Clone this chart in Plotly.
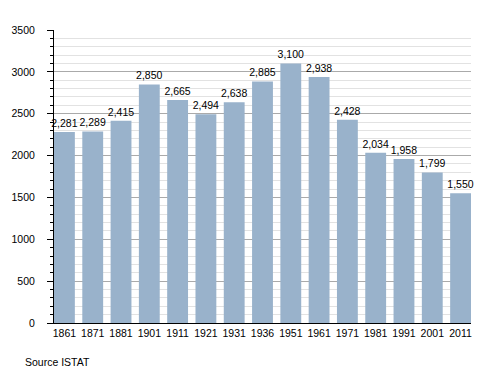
import plotly.graph_objects as go

years = ["1861", "1871", "1881", "1901", "1911", "1921", "1931", "1936",
         "1951", "1961", "1971", "1981", "1991", "2001", "2011"]
population = [2281, 2289, 2415, 2850, 2665, 2494, 2638, 2885,
              3100, 2938, 2428, 2034, 1958, 1799, 1550]
labels = [f"{v:,}" for v in population]

FONT = "Liberation Sans, Arial, sans-serif"
w = 0.737

fig = go.Figure(go.Bar(
    x=list(range(len(years))), y=population, text=labels,
    textposition="outside", constraintext="none", cliponaxis=False,
    textfont=dict(family=FONT, size=10.5, color="#000"),
    marker=dict(color="#99b2cb", line=dict(width=0)),
    width=w, hoverinfo="skip",
))

fig.update_layout(
    width=500, height=373,
    margin=dict(l=51, r=29, t=30, b=50),
    paper_bgcolor="white", plot_bgcolor="white",
    font=dict(family=FONT, size=10.5, color="#000"),
    showlegend=False,
    xaxis=dict(
        tickmode="array", tickvals=list(range(len(years))), ticktext=years,
        range=[-w / 2, len(years) - 1 + w / 2],
        showline=True, linecolor="#000", linewidth=1,
        ticks="", showgrid=False, zeroline=False,
        tickfont=dict(family=FONT, size=10.5), ticklabelstandoff=0,
    ),
    yaxis=dict(
        range=[0, 3500], tickmode="linear", tick0=0, dtick=500,
        showline=True, linecolor="#000", linewidth=1,
        ticks="outside", ticklen=6, tickcolor="#000", tickwidth=1,
        showgrid=True, gridcolor="#aaaaaa", gridwidth=1,
        zeroline=False,
        tickfont=dict(family=FONT, size=10.5), ticklabelstandoff=10,
        minor=dict(dtick=100, ticks="outside", ticklen=3, tickcolor="#000",
                   showgrid=True, gridcolor="#e2e2e2", gridwidth=1),
    ),
    annotations=[dict(text="Source ISTAT", x=(20 - 51) / 420, y=(323 - 362) / 293,
                      xref="paper", yref="paper",
                      showarrow=False, font=dict(family=FONT, size=10.5),
                      xanchor="left", yanchor="middle")],
)

fig.write_html("out.html", config={"displayModeBar": False, "staticPlot": True},
               post_script="document.body.style.margin='0';document.body.style.overflow='hidden';")
